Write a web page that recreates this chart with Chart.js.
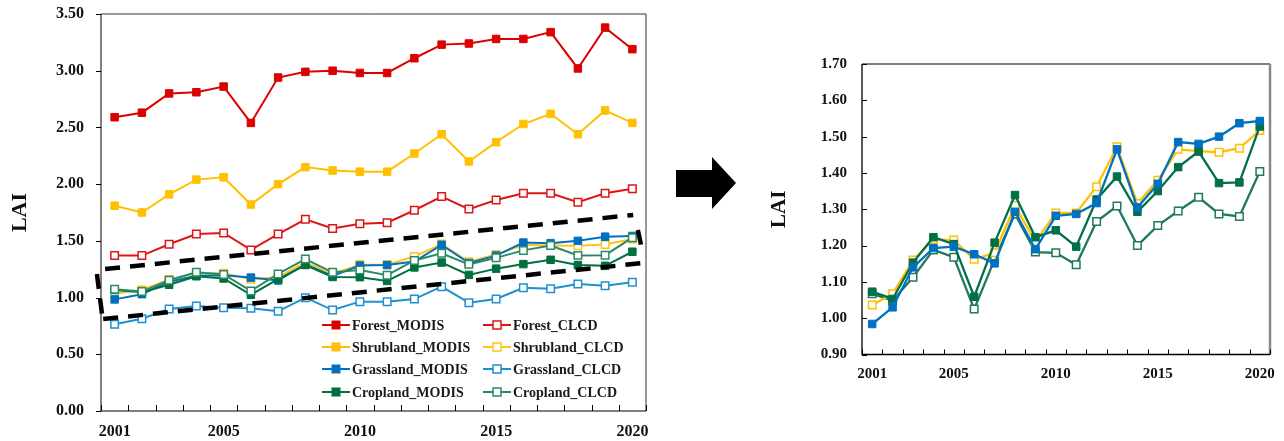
<!DOCTYPE html>
<html>
<head>
<meta charset="utf-8">
<script src="https://cdn.jsdelivr.net/npm/chart.js@4/dist/chart.umd.min.js"></script>
<style>
  html, body { margin: 0; padding: 0; background: #fff; }
  #wrap { position: relative; width: 1284px; height: 441px; overflow: hidden; background: #fff; }
  #lai { position: absolute; left: 0; top: 0; }
  #laiZoom { position: absolute; left: 760px; top: 0; }
  #arrow { position: absolute; left: 660px; top: 140px; }
</style>
</head>
<body>
<div id="wrap">
  <canvas id="lai" width="660" height="441"></canvas>
  <svg id="arrow" width="90" height="90" viewBox="0 0 90 90">
    <polygon points="16,30 52,30 52,17 76,43 52,69 52,57 16,57" fill="#000"/>
  </svg>
  <canvas id="laiZoom" width="524" height="441"></canvas>
</div>
<script>
// Years on the category axis, and the ones that carry a label
const years = ['2001','2002','2003','2004','2005','2006','2007','2008','2009','2010',
               '2011','2012','2013','2014','2015','2016','2017','2018','2019','2020'];
const labelledYears = ['2001','2005','2010','2015','2020'];

// Annual mean LAI per land-cover class and product
const forestMODIS = [2.59, 2.63, 2.80, 2.81, 2.86, 2.54, 2.94, 2.99, 3.00, 2.98,
                     2.98, 3.11, 3.23, 3.24, 3.28, 3.28, 3.34, 3.02, 3.38, 3.19];
const forestCLCD  = [1.37, 1.37, 1.47, 1.56, 1.57, 1.42, 1.56, 1.69, 1.61, 1.65,
                     1.66, 1.77, 1.89, 1.78, 1.86, 1.92, 1.92, 1.84, 1.92, 1.96];
const shrubMODIS  = [1.81, 1.75, 1.91, 2.04, 2.06, 1.82, 2.00, 2.15, 2.12, 2.11,
                     2.11, 2.27, 2.44, 2.20, 2.37, 2.53, 2.62, 2.44, 2.65, 2.54];
const shrubCLCD   = [1.036, 1.067, 1.160, 1.217, 1.215, 1.162, 1.180, 1.310, 1.210, 1.290,
                     1.290, 1.362, 1.472, 1.316, 1.380, 1.465, 1.460, 1.457, 1.468, 1.517];
const grassMODIS  = [0.984, 1.030, 1.140, 1.193, 1.197, 1.176, 1.151, 1.293, 1.190, 1.282,
                     1.287, 1.317, 1.465, 1.305, 1.370, 1.485, 1.480, 1.500, 1.537, 1.543];
const grassCLCD   = [0.764, 0.814, 0.899, 0.926, 0.911, 0.905, 0.879, 0.999, 0.890, 0.964,
                     0.964, 0.987, 1.096, 0.955, 0.987, 1.087, 1.078, 1.120, 1.105, 1.135];
const cropMODIS   = [1.067, 1.048, 1.113, 1.188, 1.168, 1.025, 1.162, 1.287, 1.182, 1.180,
                     1.147, 1.266, 1.309, 1.200, 1.255, 1.295, 1.333, 1.287, 1.280, 1.404];
const cropCLCD    = [1.073, 1.053, 1.153, 1.223, 1.204, 1.059, 1.208, 1.339, 1.223, 1.242,
                     1.197, 1.327, 1.390, 1.293, 1.350, 1.416, 1.459, 1.372, 1.374, 1.528];

// Dashed outline around the low-LAI cluster, as [category index, LAI] segment ends
const clusterOutline = [
  [[-0.35, 1.252], [19.03, 1.728]],
  [[-0.42, 0.811], [19.40, 1.305]],
  [[-0.65, 1.208], [-0.43, 0.793]],
  [[19.20, 1.596], [19.35, 1.428]]
];

const SERIF = '"Liberation Serif", "Times New Roman", Times, serif';

function series(label, data, color, filled, order, width) {
  return {
    label, data, order,
    borderColor: color,
    backgroundColor: color,
    borderWidth: width || 2,
    tension: 0,
    pointStyle: 'rect',
    pointRadius: 5.3,
    pointHoverRadius: 5.3,
    pointBackgroundColor: filled ? color : '#ffffff',
    pointBorderColor: color,
    pointBorderWidth: filled ? 1 : 1.5
  };
}

// Frame, axis lines and tick marks drawn from the scales
const frameTicks = {
  id: 'frameTicks',
  beforeDatasetsDraw(chart, args, o) {
    const ctx = chart.ctx, ca = chart.chartArea;
    const xs = chart.scales.x, ys = chart.scales.y;
    ctx.save();
    ctx.lineCap = 'butt';
    // top and right edges
    ctx.strokeStyle = o.topColor; ctx.lineWidth = o.topWidth;
    ctx.beginPath(); ctx.moveTo(ca.left, ca.top); ctx.lineTo(ca.right, ca.top); ctx.stroke();
    ctx.strokeStyle = o.rightColor; ctx.lineWidth = o.rightWidth;
    ctx.beginPath(); ctx.moveTo(ca.right, ca.top); ctx.lineTo(ca.right, ca.bottom); ctx.stroke();
    // axis lines
    ctx.strokeStyle = '#000'; ctx.lineWidth = o.axisWidth;
    ctx.beginPath();
    ctx.moveTo(ca.left, ca.top); ctx.lineTo(ca.left, ca.bottom); ctx.lineTo(ca.right, ca.bottom);
    ctx.stroke();
    // x ticks at category boundaries, pointing into the plot
    ctx.lineWidth = 1;
    ctx.beginPath();
    for (let i = 0; i <= chart.data.labels.length; i++) {
      const px = Math.round(xs.getPixelForValue(i - 0.5)) + 0.5;
      ctx.moveTo(px, ca.bottom); ctx.lineTo(px, ca.bottom - o.xTick);
    }
    // y ticks at each labelled value
    ys.ticks.forEach(t => {
      const py = Math.round(ys.getPixelForValue(t.value)) + 0.5;
      ctx.moveTo(ca.left, py); ctx.lineTo(ca.left + o.yTick, py);
    });
    ctx.stroke();
    ctx.restore();
  }
};

// Dashed outline drawn in data space
const dashedOutline = {
  id: 'dashedOutline',
  afterDatasetsDraw(chart, args, o) {
    if (!o || !o.segments) return;
    const ctx = chart.ctx, xs = chart.scales.x, ys = chart.scales.y;
    ctx.save();
    ctx.strokeStyle = '#000';
    ctx.lineWidth = o.width;
    ctx.setLineDash(o.dash);
    o.segments.forEach(([a, b]) => {
      ctx.beginPath();
      ctx.moveTo(xs.getPixelForValue(a[0]), ys.getPixelForValue(a[1]));
      ctx.lineTo(xs.getPixelForValue(b[0]), ys.getPixelForValue(b[1]));
      ctx.stroke();
    });
    ctx.restore();
  }
};

// Two-column legend in the lower right of the plot
const cornerLegend = {
  id: 'cornerLegend',
  afterDatasetsDraw(chart, args, o) {
    if (!o || !o.show) return;
    const ctx = chart.ctx, ca = chart.chartArea;
    ctx.save();
    ctx.font = o.font;
    ctx.textBaseline = 'middle';
    ctx.textAlign = 'left';
    chart.data.datasets.forEach((ds, i) => {
      const x0 = ca.right + o.colX[i % 2];
      const y = ca.bottom + o.rowY[Math.floor(i / 2)];
      ctx.strokeStyle = ds.borderColor;
      ctx.lineWidth = ds.borderWidth;
      ctx.beginPath(); ctx.moveTo(x0, y); ctx.lineTo(x0 + o.lineLen, y); ctx.stroke();
      const s = o.box, cx = x0 + o.lineLen / 2;
      ctx.fillStyle = ds.pointBackgroundColor;
      ctx.fillRect(cx - s / 2, y - s / 2, s, s);
      ctx.lineWidth = ds.pointBorderWidth;
      ctx.strokeRect(cx - s / 2, y - s / 2, s, s);
      ctx.fillStyle = '#1a1a1a';
      ctx.fillText(ds.label, x0 + o.lineLen + o.gap, y + 1);
    });
    ctx.restore();
  }
};

function axes(cfg) {
  return {
    x: {
      type: 'category',
      offset: true,
      grid: { display: false, drawTicks: false },
      border: { display: false },
      ticks: {
        autoSkip: false, maxRotation: 0, minRotation: 0,
        padding: cfg.xPad, color: '#111',
        font: { family: SERIF, size: cfg.tickSize, weight: 'bold' },
        callback: (v, i) => labelledYears.includes(years[i]) ? years[i] : ''
      },
      afterFit: s => { s.height = cfg.xHeight; s.paddingLeft = 0; s.paddingRight = 0; }
    },
    y: {
      min: cfg.min, max: cfg.max,
      grid: { display: false, drawTicks: false },
      border: { display: false },
      ticks: {
        stepSize: cfg.step, padding: cfg.yPad, color: '#111',
        font: { family: SERIF, size: cfg.tickSize, weight: 'bold' },
        callback: v => Number(v).toFixed(2)
      },
      title: {
        display: true, text: 'LAI', color: '#111',
        font: { family: SERIF, size: cfg.titleSize, weight: 'bold' },
        padding: { top: 7, bottom: 0 }
      },
      afterFit: s => { s.width = cfg.yWidth; s.paddingTop = 0; s.paddingBottom = 0; }
    }
  };
}

Chart.defaults.animation = false;

new Chart(document.getElementById('lai'), {
  type: 'line',
  data: {
    labels: years,
    datasets: [
      series('Forest_MODIS',    forestMODIS, '#DD0000', true,  7),
      series('Forest_CLCD',     forestCLCD,  '#DD1515', false, 6),
      series('Shrubland_MODIS', shrubMODIS,  '#FFC000', true,  5),
      series('Shrubland_CLCD',  shrubCLCD,   '#FFC419', false, 4),
      series('Grassland_MODIS', grassMODIS,  '#0070C0', true,  3),
      series('Grassland_CLCD',  grassCLCD,   '#1E90D0', false, 2),
      series('Cropland_MODIS',  cropMODIS,   '#00703F', true,  1),
      series('Cropland_CLCD',   cropCLCD,    '#2A8A66', false, 0)
    ]
  },
  options: {
    responsive: false,
    layout: { padding: { top: 14, right: 14, left: 0, bottom: 0 } },
    scales: axes({ min: 0, max: 3.5, step: 0.5, tickSize: 16, titleSize: 22,
                   xPad: 11, yPad: 17, xHeight: 30, yWidth: 101 }),
    plugins: {
      legend: { display: false },
      tooltip: { enabled: false },
      frameTicks: { topColor: '#333', topWidth: 1, rightColor: '#333', rightWidth: 1,
                    axisWidth: 1, xTick: 6, yTick: -5 },
      dashedOutline: { segments: clusterOutline, width: 4.5, dash: [15, 10] },
      cornerLegend: { show: true, font: 'bold 14px ' + SERIF,
                      colX: [-324, -163], rowY: [-86, -64, -42, -19],
                      lineLen: 28, box: 8, gap: 2 }
    }
  },
  plugins: [frameTicks, dashedOutline, cornerLegend]
});

new Chart(document.getElementById('laiZoom'), {
  type: 'line',
  data: {
    labels: years,
    datasets: [
      series('Shrubland_CLCD',  shrubCLCD,  '#FFC000', false, 2, 2.3),
      series('Grassland_MODIS', grassMODIS, '#0070C0', true,  0, 2.3),
      series('Cropland_CLCD',   cropCLCD,   '#00704A', true,  1, 2.3),
      series('Cropland_MODIS',  cropMODIS,  '#1E7A58', false, 3, 2.3)
    ]
  },
  options: {
    responsive: false,
    layout: { padding: { top: 64, right: 14, left: 0, bottom: 0 } },
    scales: axes({ min: 0.9, max: 1.7, step: 0.1, tickSize: 15, titleSize: 21,
                   xPad: 11, yPad: 15, xHeight: 86.5, yWidth: 102 }),
    plugins: {
      legend: { display: false },
      tooltip: { enabled: false },
      frameTicks: { topColor: '#000', topWidth: 1, rightColor: '#888', rightWidth: 2.5,
                    axisWidth: 1.3, xTick: 5, yTick: 5 }
    }
  },
  plugins: [frameTicks]
});
</script>
</body>
</html>
